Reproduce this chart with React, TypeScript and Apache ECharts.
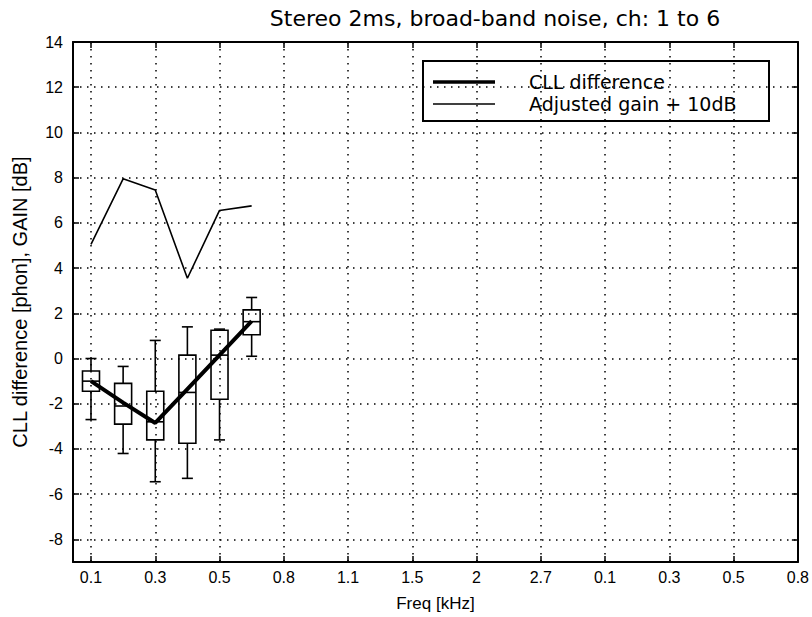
import React, { useEffect, useRef } from "react";
import * as echarts from "echarts";

const xTickPositions = [1, 2, 3, 4, 5, 6, 7, 8, 9, 10, 11, 12];
const xTickLabels = ["0.1", "0.3", "0.5", "0.8", "1.1", "1.5", "2", "2.7", "0.1", "0.3", "0.5", "0.8"];
const yTickValues = [-8, -6, -4, -2, 0, 2, 4, 6, 8, 10, 12, 14];

const channelPositions = [1, 1.5, 2, 2.5, 3, 3.5];
const cllDifference = [-1.0, -1.95, -2.85, -1.35, 0.15, 1.65];
const adjustedGainPlus10 = [5.05, 7.95, 7.45, 3.55, 6.55, 6.75];

const whiskerLow = [-2.7, -4.2, -5.45, -5.3, -3.6, 0.1];
const boxLow = [-1.45, -2.9, -3.6, -3.75, -1.8, 1.05];
const boxMedian = [-1.0, -2.1, -2.8, -1.5, 0.15, 1.63];
const boxHigh = [-0.55, -1.1, -1.45, 0.15, 1.25, 2.15];
const whiskerHigh = [0.0, -0.35, 0.8, 1.4, 1.3, 2.7];

const FONT = "Liberation Sans, Arial, Helvetica, sans-serif";
const WIDE = "DejaVu Sans, Verdana, sans-serif";

export default function App() {
  const ref = useRef<HTMLDivElement>(null);

  useEffect(() => {
    if (!ref.current) return;
    const chart = echarts.init(ref.current, null, { renderer: "svg" });

    const boxData = channelPositions.map((x, i) => [
      x,
      whiskerLow[i],
      boxLow[i],
      boxMedian[i],
      boxHigh[i],
      whiskerHigh[i],
    ]);
    const cllData = channelPositions.map((x, i) => [x, cllDifference[i]]);
    const gainData = channelPositions.map((x, i) => [x, adjustedGainPlus10[i]]);

    const tickLabelFmt = (v: number) => {
      const idx = xTickPositions.indexOf(Math.round(v));
      return idx >= 0 ? xTickLabels[idx] : "";
    };

    const xCommon = {
      type: "value" as const,
      min: 0.72,
      max: 12,
      gridIndex: 0,
    };
    const yCommon = {
      type: "value" as const,
      min: -9,
      max: 14,
      gridIndex: 0,
    };
    const frameLine = { show: true, onZero: false, lineStyle: { color: "#000", width: 2 } };
    const tickStyle = { color: "#000", width: 1.5 };
    const dotted = { show: true, lineStyle: { color: "#000", width: 1.5, type: [1.5, 5.5] as any } };

    const option: any = {
      animation: false,
      backgroundColor: "#fff",
      title: {
        text: "Stereo 2ms, broad-band noise, ch: 1 to 6",
        left: 490,
        textAlign: "center",
        top: 2,
        textStyle: { fontFamily: WIDE, fontSize: 22, fontWeight: "normal", color: "#000" },
      },
      grid: { left: 73, right: 14, top: 42, bottom: 51, containLabel: false },
      xAxis: [
        {
          ...xCommon,
          position: "bottom",
          axisLine: frameLine,
          axisTick: { show: true, inside: true, length: 6, customValues: xTickPositions, lineStyle: tickStyle },
          axisLabel: {
            customValues: xTickPositions,
            formatter: tickLabelFmt,
            color: "#000",
            fontFamily: FONT,
            fontSize: 16,
            margin: 7,
          },
          splitLine: dotted,
          name: "Freq [kHz]",
          nameLocation: "middle",
          nameGap: 33,
          nameTextStyle: { fontFamily: FONT, fontSize: 17, color: "#000" },
        },
        {
          ...xCommon,
          position: "top",
          axisLine: frameLine,
          axisTick: { show: true, inside: true, length: 6, customValues: xTickPositions, lineStyle: tickStyle },
          axisLabel: { show: false },
          splitLine: { show: false },
        },
      ],
      yAxis: [
        {
          ...yCommon,
          position: "left",
          axisLine: frameLine,
          axisTick: { show: true, inside: true, length: 6, customValues: yTickValues, lineStyle: tickStyle },
          axisLabel: {
            customValues: yTickValues,
            color: "#000",
            fontFamily: FONT,
            fontSize: 16,
            margin: 10,
          },
          splitLine: dotted,
          name: "CLL difference [phon], GAIN [dB]",
          nameLocation: "middle",
          nameGap: 43,
          nameTextStyle: { fontFamily: FONT, fontSize: 20, color: "#000" },
        },
        {
          ...yCommon,
          position: "right",
          axisLine: frameLine,
          axisTick: { show: true, inside: true, length: 6, customValues: yTickValues, lineStyle: tickStyle },
          axisLabel: { show: false },
          splitLine: { show: false },
        },
      ],
      series: [
        {
          type: "custom",
          name: "box",
          xAxisIndex: 0,
          yAxisIndex: 0,
          data: boxData,
          encode: { x: 0, y: [1, 2, 3, 4, 5] },
          z: 2,
          renderItem: (params: any, api: any) => {
            const x = api.value(0);
            const lo = api.coord([x, api.value(1)]);
            const q1 = api.coord([x, api.value(2)]);
            const med = api.coord([x, api.value(3)]);
            const q3 = api.coord([x, api.value(4)]);
            const hi = api.coord([x, api.value(5)]);
            const cx = lo[0];
            const hw = 8.5;
            const cw = 5.5;
            const st = { stroke: "#000", lineWidth: 1.6, fill: null };
            return {
              type: "group",
              children: [
                { type: "line", shape: { x1: cx, y1: hi[1], x2: cx, y2: q3[1] }, style: st },
                { type: "line", shape: { x1: cx, y1: q1[1], x2: cx, y2: lo[1] }, style: st },
                { type: "line", shape: { x1: cx - cw, y1: hi[1], x2: cx + cw, y2: hi[1] }, style: st },
                { type: "line", shape: { x1: cx - cw, y1: lo[1], x2: cx + cw, y2: lo[1] }, style: st },
                {
                  type: "rect",
                  shape: { x: cx - hw, y: q3[1], width: 2 * hw, height: q1[1] - q3[1] },
                  style: { stroke: "#000", lineWidth: 1.6, fill: "rgba(0,0,0,0)" },
                },
                { type: "line", shape: { x1: cx - hw, y1: med[1], x2: cx + hw, y2: med[1] }, style: st },
              ],
            };
          },
        },
        {
          type: "line",
          name: "Adjusted gain + 10dB",
          data: gainData,
          showSymbol: false,
          symbol: "none",
          lineStyle: { color: "#000", width: 1.6 },
          z: 3,
        },
        {
          type: "line",
          name: "CLL difference",
          data: cllData,
          showSymbol: false,
          symbol: "none",
          lineStyle: { color: "#000", width: 4 },
          z: 4,
        },
      ],
      graphic: [
        {
          type: "group",
          left: 422,
          top: 60,
          z: 10,
          children: [
            {
              type: "rect",
              shape: { x: 0, y: 0, width: 346, height: 60 },
              style: { fill: "#fff", stroke: "#000", lineWidth: 2 },
            },
            {
              type: "line",
              shape: { x1: 10, y1: 21, x2: 72, y2: 21 },
              style: { stroke: "#000", lineWidth: 3.5 },
            },
            {
              type: "line",
              shape: { x1: 10, y1: 43, x2: 72, y2: 43 },
              style: { stroke: "#000", lineWidth: 1.6 },
            },
            {
              type: "text",
              x: 106,
              y: 21,
              style: {
                text: "CLL difference",
                fontFamily: WIDE,
                fontSize: 19,
                fill: "#000",
                verticalAlign: "middle",
                align: "left",
              },
            },
            {
              type: "text",
              x: 106,
              y: 43,
              style: {
                text: "Adjusted gain + 10dB",
                fontFamily: WIDE,
                fontSize: 19,
                fill: "#000",
                verticalAlign: "middle",
                align: "left",
              },
            },
          ],
        },
      ],
    };

    chart.setOption(option);
    return () => chart.dispose();
  }, []);

  return <div ref={ref} style={{ width: 812, height: 617, position: "absolute", left: 0, top: 0 }} />;
}
